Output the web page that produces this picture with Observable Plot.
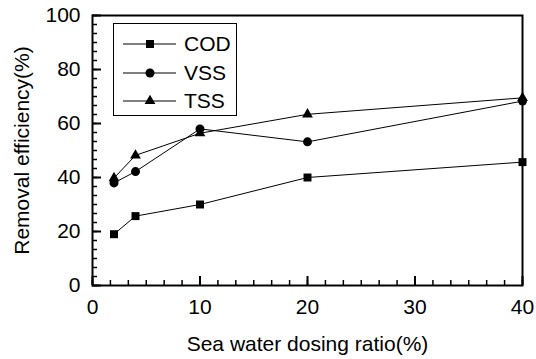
<!DOCTYPE html>
<html>
<head>
<meta charset="utf-8">
<script src="https://cdn.jsdelivr.net/npm/d3@7"></script>
<script src="https://cdn.jsdelivr.net/npm/@observablehq/plot@0.6"></script>
<style>
  html, body { margin: 0; padding: 0; background: white; }
  #wrap { position: relative; width: 536px; height: 359px; font-family: "Liberation Sans", Arial, sans-serif; }
  #legend { position: absolute; left: 113px; top: 23px; width: 124px; height: 93px; border: 1.5px solid black; box-sizing: border-box; background: white; }
  #legend .row { position: absolute; left: 0; height: 24px; display: flex; align-items: center; }
  #legend svg { display: block; }
  #legend span { font-size: 21px; margin-left: 4px; line-height: 24px; }
</style>
</head>
<body>
<div id="wrap"></div>
<script>
// Data
const dosing = [2, 4, 10, 20, 40];
const cod = [19, 25.7, 30, 40, 45.7];
const vss = [38, 42.2, 58, 53.2, 68.3];
const tss = [39.8, 48.2, 56.4, 63.4, 69.5];
const seriesNames = ["COD", "VSS", "TSS"];
const symbols = ["square", "circle", "triangle"];
const xTicks = [0, 10, 20, 30, 40];
const yTicks = [0, 20, 40, 60, 80, 100];

const seriesValues = [cod, vss, tss];
const table = seriesNames.flatMap((name, i) =>
  dosing.map((x, j) => ({series: name, x, y: seriesValues[i][j]})));

const xMinor = d3.range(0, 40.0001, 10 / 6);
const yMinor = d3.range(0, 100.0001, 20 / 6);

const W = 536, H = 359, mL = 92, mR = 14, mT = 15, mB = 74;
const innerW = W - mL - mR, innerH = H - mT - mB;

const marks = [
  // inward minor and major ticks
  Plot.tickX(xMinor, {x: d => d, insetTop: innerH - 5, stroke: "black", strokeWidth: 1.5}),
  Plot.tickX(xTicks, {x: d => d, insetTop: innerH - 9, stroke: "black", strokeWidth: 2}),
  Plot.tickY(yMinor, {y: d => d, insetRight: innerW - 5, stroke: "black", strokeWidth: 1.5}),
  Plot.tickY(yTicks, {y: d => d, insetRight: innerW - 9, stroke: "black", strokeWidth: 2}),
  // labels
  Plot.axisX({ticks: xTicks, tickSize: 0, tickPadding: 14, fontSize: 21, label: "Sea water dosing ratio(%)", labelAnchor: "center", labelOffset: 65, labelArrow: "none"}),
  Plot.axisY({ticks: yTicks, tickSize: 0, tickPadding: 12, fontSize: 21, label: "Removal efficiency(%)", labelAnchor: "center", labelOffset: 78, labelArrow: "none"})
];
seriesNames.forEach((name, i) => {
  const d = table.filter(r => r.series === name);
  marks.push(Plot.line(d, {x: "x", y: "y", stroke: "black", strokeWidth: 1}));
  marks.push(Plot.dot(d, {x: "x", y: "y", symbol: () => symbols[i], fill: "black", stroke: "none", r: i === 2 ? 4 : 4.5}));
});
marks.push(Plot.frame({stroke: "black", strokeWidth: 2}));

const chart = Plot.plot({
  width: W, height: H,
  marginLeft: mL, marginRight: mR, marginTop: mT, marginBottom: mB,
  style: {fontFamily: "'Liberation Sans', Arial, sans-serif", fontSize: "21px", background: "white", color: "black"},
  x: {domain: [0, 40]},
  y: {domain: [0, 100]},
  marks
});
const wrap = document.getElementById("wrap");
wrap.appendChild(chart);

// Legend overlay
const legend = document.createElement("div");
legend.id = "legend";
const rowTops = [8, 36.5, 65];
seriesNames.forEach((name, i) => {
  const row = document.createElement("div");
  row.className = "row";
  row.style.top = rowTops[i] + "px";
  const s = d3.create("svg").attr("width", 66).attr("height", 24);
  s.append("line").attr("x1", 9).attr("x2", 62).attr("y1", 12).attr("y2", 12).attr("stroke", "black").attr("stroke-width", 1);
  const sym = [d3.symbolSquare, d3.symbolCircle, d3.symbolTriangle][i];
  const size = Math.PI * (i === 2 ? 4 : 4.5) ** 2;
  s.append("path").attr("d", d3.symbol(sym, size)()).attr("transform", "translate(36,12)").attr("fill", "black");
  row.appendChild(s.node());
  const t = document.createElement("span");
  t.textContent = name;
  row.appendChild(t);
  legend.appendChild(row);
});
wrap.appendChild(legend);
</script>
</body>
</html>
